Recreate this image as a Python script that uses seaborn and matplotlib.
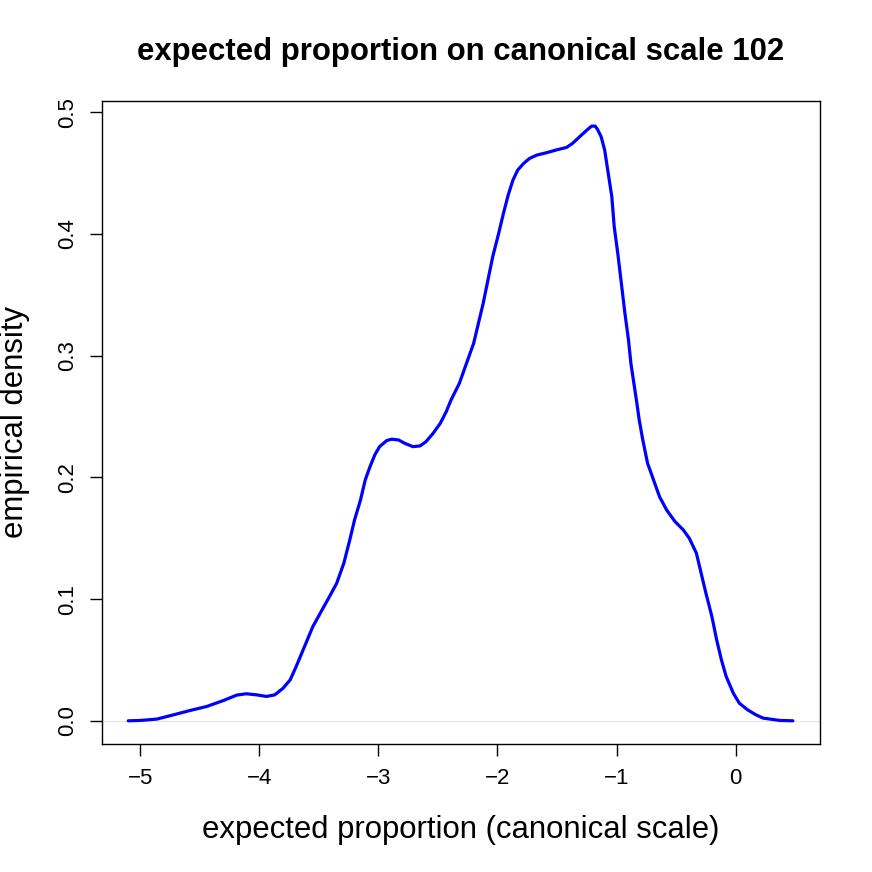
import matplotlib
matplotlib.use("Agg")
import matplotlib.pyplot as plt
import seaborn as sns

# density curve
x_vals = [-5.10, -5.00, -4.86, -4.72, -4.58, -4.44, -4.30, -4.19, -4.11, -4.02,
          -3.94, -3.87, -3.80, -3.74, -3.69, -3.62, -3.55, -3.48, -3.41, -3.35,
          -3.29, -3.24, -3.20, -3.15, -3.11, -3.07, -3.03, -2.99, -2.93, -2.89,
          -2.83, -2.78, -2.71, -2.65, -2.60, -2.54, -2.48, -2.43, -2.39, -2.32,
          -2.26, -2.20, -2.16, -2.12, -2.08, -2.04, -1.99, -1.95, -1.91, -1.87,
          -1.83, -1.78, -1.73, -1.67, -1.59, -1.51, -1.42, -1.37, -1.31, -1.25,
          -1.21, -1.18, -1.16, -1.13, -1.10, -1.07, -1.04, -1.02, -0.99, -0.96,
          -0.93, -0.90, -0.88, -0.83, -0.81, -0.78, -0.74, -0.69, -0.64, -0.58,
          -0.51, -0.44, -0.39, -0.33, -0.29, -0.25, -0.20, -0.16, -0.12, -0.08,
          -0.02, 0.03, 0.10, 0.17, 0.23, 0.37, 0.48]
density = [0.0000, 0.0003, 0.0014, 0.0049, 0.0085, 0.0118, 0.0167, 0.0211, 0.0222, 0.0213,
           0.0200, 0.0213, 0.0268, 0.0337, 0.0446, 0.0610, 0.0774, 0.0898, 0.1021, 0.1130,
           0.1294, 0.1486, 0.1650, 0.1814, 0.1979, 0.2088, 0.2184, 0.2252, 0.2302, 0.2313,
           0.2307, 0.2280, 0.2252, 0.2258, 0.2293, 0.2362, 0.2444, 0.2540, 0.2635, 0.2772,
           0.2937, 0.3101, 0.3265, 0.3429, 0.3621, 0.3812, 0.4004, 0.4168, 0.4319, 0.4442,
           0.4524, 0.4579, 0.4620, 0.4647, 0.4666, 0.4688, 0.4710, 0.4743, 0.4798, 0.4852,
           0.4885, 0.4885, 0.4858, 0.4798, 0.4688, 0.4496, 0.4305, 0.4059, 0.3840, 0.3593,
           0.3347, 0.3128, 0.2937, 0.2610, 0.2471, 0.2307, 0.2116, 0.1979, 0.1842, 0.1732,
           0.1637, 0.1568, 0.1500, 0.1377, 0.1212, 0.1048, 0.0857, 0.0665, 0.0501, 0.0364,
           0.0227, 0.0145, 0.0090, 0.0049, 0.0022, 0.0003, 0.0000]
x_ticks = [-5, -4, -3, -2, -1, 0]
x_labels = ["\u22125", "\u22124", "\u22123", "\u22122", "\u22121", "0"]
y_ticks = [0.0, 0.1, 0.2, 0.3, 0.4, 0.5]
y_labels = ["0.0", "0.1", "0.2", "0.3", "0.4", "0.5"]

sns.set_theme(style="white")
plt.rcParams['font.family'] = ['Liberation Sans', 'DejaVu Sans']

fig = plt.figure(figsize=(8.72, 8.72), dpi=100)
ax = fig.add_axes([0.117, 0.147, 0.823, 0.737])

# R's light zero line
ax.axhline(0, color="#e6e6e6", linewidth=0.8, zorder=1)
sns.lineplot(x=x_vals, y=density, color="blue", linewidth=2.3, ax=ax, zorder=2)

ax.set_xlim(-5.32, 0.705)
ax.set_ylim(-0.0189, 0.509)
ax.set_xticks(x_ticks)
ax.set_xticklabels(x_labels)
ax.set_yticks(y_ticks)
ax.set_yticklabels(y_labels, rotation=90, va="center")

for s in ax.spines.values():
    s.set_color("black")
    s.set_linewidth(1.0)
ax.tick_params(axis="both", direction="out", length=8.5, width=1.0, color="black",
               labelsize=16, labelcolor="black", bottom=True, left=True)
ax.tick_params(axis="x", pad=9)
ax.tick_params(axis="y", pad=9)

fig.text(0.528, 0.940, "expected proportion on canonical scale 102", ha="center", va="center",
         fontsize=22.4, fontweight="bold", color="black")
fig.text(0.528, 0.048, "expected proportion (canonical scale)", ha="center", va="center",
         fontsize=22.4, color="black")
fig.text(0.017, 0.516, "empirical density", ha="center", va="center", rotation=90,
         fontsize=22.4, color="black")

fig.savefig("out.png", dpi=100, facecolor="white")
